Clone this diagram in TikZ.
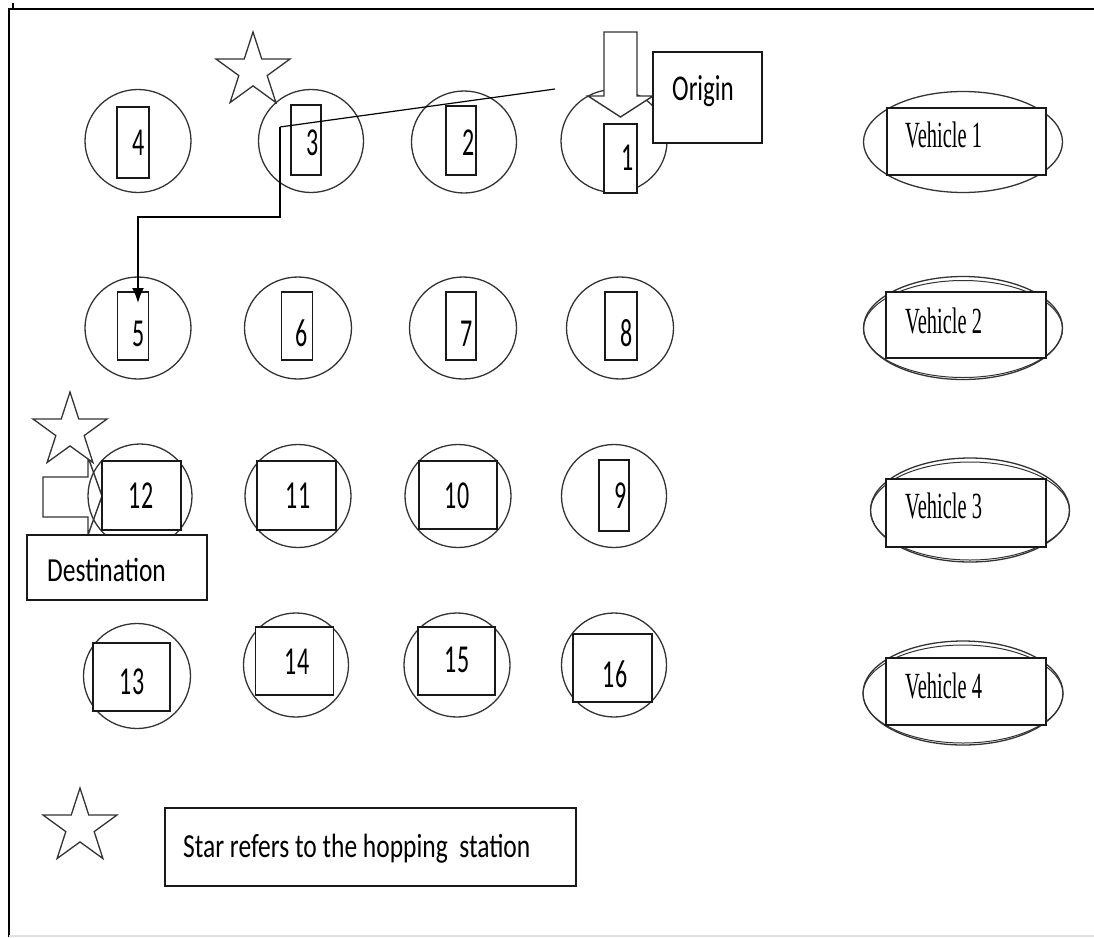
\documentclass[tikz,border=0pt]{standalone}
\usepackage{fontspec}
\usetikzlibrary{shapes.geometric,arrows.meta}
\newfontfamily\carlito{Carlito}
\newfontfamily\serifv{Liberation Serif}
% vertical stretch of a label
\newcommand\vstretch[2]{\scalebox{1}[#1]{#2}}

\begin{document}
\begin{tikzpicture}[x=1pt,y=-1pt,
  stn/.style={ellipse, draw=black!80, line width=1.3pt, inner sep=0pt, outer sep=0pt},
  tagbox/.style={rectangle, draw=black!90, line width=1.7pt, fill=white, inner sep=0pt, outer sep=0pt},
  num/.style={inner sep=0pt, anchor=base, font=\carlito\fontsize{24}{28}\selectfont},
  word/.style={inner sep=0pt, anchor=base west, font=\carlito\fontsize{25.5}{30}\selectfont},
  veh/.style={inner sep=0pt, anchor=base west, font=\serifv\fontsize{20.5}{24}\selectfont},
  hopstar/.style={star, star points=5, star point ratio=2.618, minimum size=78pt,
    draw=black!80, line width=1.3pt, fill=white, inner sep=0pt},
  blockarrow/.style={draw=black!80, line width=1.4pt, fill=white, line join=miter},
  route/.style={draw=black, line width=1.8pt},
]
\useasboundingbox (0,0) rectangle (1094,937);

% frame
\draw[line width=1.6pt] (9,937) -- (9,9) -- (1094,9);
\draw[line width=1.2pt] (13,3) -- (13,9);
\fill[black!12] (9,935) rectangle (1094,937);

% hopping station above node 3
\node[hopstar] (star1) at (253,71) {};

% ---- row 1 ----
\node[stn, minimum width=106pt, minimum height=103pt] (c4) at (138,141) {};
\node[tagbox, minimum width=32pt, minimum height=71pt] (r4) at (133,142.5) {};
\node[num] (t4) at (139,155) {\vstretch{1.65}{4}};

\node[stn, minimum width=105pt, minimum height=103pt] (c3) at (311,141) {};
\node[tagbox, minimum width=30pt, minimum height=70pt] (r3) at (306,140) {};
\node[num] (t3) at (313,155) {\vstretch{1.65}{3}};

\node[stn, minimum width=105pt, minimum height=102pt] (c2) at (464,142) {};
\node[tagbox, minimum width=30pt, minimum height=69pt] (r2) at (461,140.5) {};
\node[num] (t2) at (469,155) {\vstretch{1.65}{2}};

\node[stn, minimum width=106pt, minimum height=103pt] (c1) at (614,141) {};
\node[tagbox, minimum width=33pt, minimum height=69pt] (r1) at (620.5,158.5) {};
\node[num] (t1) at (628,170) {\vstretch{1.65}{1}};

% origin marker
\draw[blockarrow] (604,32) -- (637,32) -- (637,96) -- (653,96) -- (620.5,117)
  -- (588,96) -- (604,96) -- cycle;
\node[tagbox, minimum width=109pt, minimum height=91pt] (obox) at (707.5,97.5) {};
\node[word, font=\carlito\fontsize{25}{30}\selectfont] (otext) at (672,100) {\vstretch{1.45}{Origin}};

% route from the origin through the hop to node 5
\coordinate (pstart) at (555,89);
\coordinate (hop) at (280,127);
\coordinate (bend) at (280,217);
\coordinate (tip5) at (138,303);
\draw[line width=1.2pt] (pstart) -- (hop);

% ---- row 2 ----
\node[stn, minimum width=106pt, minimum height=102pt] (c5) at (138,328) {};
\node[tagbox, minimum width=31pt, minimum height=68pt] (r5) at (133,326) {};
\node[num] (t5) at (139,346) {\vstretch{1.65}{5}};

\node[stn, minimum width=107pt, minimum height=102pt] (c6) at (298,328) {};
\node[tagbox, minimum width=31pt, minimum height=68pt] (r6) at (297,326) {};
\node[num] (t6) at (302,346) {\vstretch{1.65}{6}};

\node[stn, minimum width=107pt, minimum height=102pt] (c7) at (463,328) {};
\node[tagbox, minimum width=30pt, minimum height=68pt] (r7) at (461,326) {};
\node[num] (t7) at (467,346) {\vstretch{1.65}{7}};

\node[stn, minimum width=107pt, minimum height=102pt] (c8) at (620,328) {};
\node[tagbox, minimum width=32pt, minimum height=68pt] (r8) at (621,326) {};
\node[num] (t8) at (627,346) {\vstretch{1.65}{8}};

\draw[route, -{Latex[length=15pt,width=12pt]}] (hop) -- (bend) -| (tip5);

% ---- row 3 ----
\draw[blockarrow] (43,477) -- (88,477) -- (88,457) -- (102,496) -- (88,535)
  -- (88,517) -- (43,517) -- cycle;
\node[stn, minimum width=104pt, minimum height=104pt] (c12) at (140,496) {};
\node[tagbox, minimum width=79pt, minimum height=69pt] (r12) at (141.5,495.5) {};
\node[num] (t12) at (141,508) {\vstretch{1.65}{12}};
\node[hopstar] (star2) at (70,431) {};

\node[stn, minimum width=106pt, minimum height=103pt] (c11) at (298,496) {};
\node[tagbox, minimum width=79pt, minimum height=69pt] (r11) at (296.5,495.5) {};
\node[num] (t11) at (298,508) {\vstretch{1.65}{11}};

\node[stn, minimum width=106pt, minimum height=103pt] (c10) at (458,496) {};
\node[tagbox, minimum width=78pt, minimum height=68pt] (r10) at (458,495) {};
\node[num] (t10) at (457,508) {\vstretch{1.65}{10}};

\node[stn, minimum width=105pt, minimum height=103pt] (c9) at (614,496) {};
\node[tagbox, minimum width=30pt, minimum height=71pt] (r9) at (614,495.5) {};
\node[num] (t9) at (621,508) {\vstretch{1.65}{9}};

% destination label
\node[tagbox, minimum width=180pt, minimum height=65pt] (dbox) at (117,567.5) {};
\node[word] (dtext) at (47,581) {\vstretch{1.32}{Destination}};

% ---- row 4 ----
\node[stn, minimum width=107pt, minimum height=105pt] (c13) at (137,676) {};
\node[tagbox, minimum width=77pt, minimum height=68pt] (r13) at (131.5,677) {};
\node[num] (t13) at (132,694) {\vstretch{1.65}{13}};

\node[stn, minimum width=105pt, minimum height=104pt] (c14) at (296,665) {};
\node[tagbox, minimum width=78pt, minimum height=68pt] (r14) at (294.5,661) {};
\node[num] (t14) at (297,674) {\vstretch{1.65}{14}};

\node[stn, minimum width=106pt, minimum height=104pt] (c15) at (457,665) {};
\node[tagbox, minimum width=77pt, minimum height=68pt] (r15) at (456.5,661) {};
\node[num] (t15) at (457,672) {\vstretch{1.65}{15}};

\node[stn, minimum width=105pt, minimum height=104pt] (c16) at (614,665) {};
\node[tagbox, minimum width=79pt, minimum height=68pt] (r16) at (612.5,668) {};
\node[num] (t16) at (615,687) {\vstretch{1.65}{16}};

% ---- vehicles (outer rings drawn twice for the doubled rim) ----
\node[stn, minimum width=199pt, minimum height=101pt] (v1) at (963,142) {};
\node[tagbox, minimum width=159pt, minimum height=67pt] (vb1) at (966.5,141.5) {};
\node[veh] (vt1) at (905,147) {\vstretch{1.8}{Vehicle 1}};

\node[stn, minimum width=199pt, minimum height=103pt] (v2) at (963,328) {};
\node[stn, line width=1pt, minimum width=199pt, minimum height=97pt] (v2b) at (963,329) {};
\node[tagbox, minimum width=160pt, minimum height=66pt] (vb2) at (966,325) {};
\node[veh] (vt2) at (905,333) {\vstretch{1.8}{Vehicle 2}};

\node[stn, minimum width=199pt, minimum height=104pt] (v3) at (970,510) {};
\node[stn, line width=1pt, minimum width=199pt, minimum height=98pt] (v3b) at (970,511) {};
\node[tagbox, minimum width=160pt, minimum height=68pt] (vb3) at (966,513) {};
\node[veh] (vt3) at (905,518) {\vstretch{1.8}{Vehicle 3}};

\node[stn, minimum width=200pt, minimum height=104pt] (v4) at (963,693) {};
\node[stn, line width=1pt, minimum width=200pt, minimum height=98pt] (v4b) at (963,694) {};
\node[tagbox, minimum width=160pt, minimum height=67pt] (vb4) at (966,691.5) {};
\node[veh] (vt4) at (905,698) {\vstretch{1.8}{Vehicle 4}};

% ---- legend ----
\node[hopstar] (star3) at (80,827) {};
\node[tagbox, minimum width=411pt, minimum height=78pt] (lbox) at (370.5,847) {};
\node[word] (ltext) at (183,857) {\vstretch{1.32}{Star refers to the hopping\ \ station}};

\end{tikzpicture}
\end{document}
